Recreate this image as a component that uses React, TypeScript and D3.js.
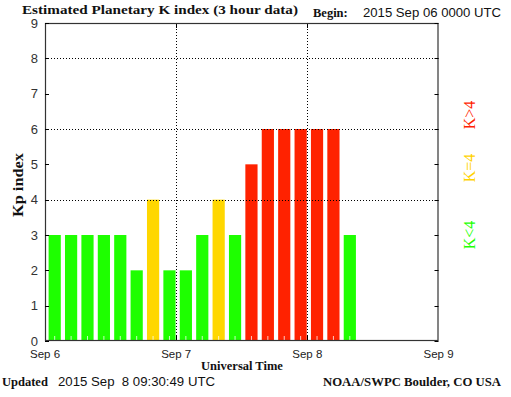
import * as d3 from 'd3';

// 3-hour Kp values starting 2015 Sep 06 00 UTC
const kpValues = [3, 3, 3, 3, 3, 2, 4, 2, 2, 3, 4, 3, 5, 6, 6, 6, 6, 6, 3];
const dayLabels = ['Sep 6', 'Sep 7', 'Sep 8', 'Sep 9'];
const yTicks = [0, 1, 2, 3, 4, 5, 6, 7, 8, 9];
const gridLevels = [4, 6, 8];
const legendItems = [
  { label: 'K>4', color: '#ff2200', y: 115 },
  { label: 'K=4', color: '#ffd200', y: 168 },
  { label: 'K<4', color: '#22ff00', y: 235 },
];

const serif = '"Liberation Serif", "DejaVu Serif", serif';
const sans = '"Liberation Sans", Arial, sans-serif';

const barColor = (k: number) => (k < 4 ? '#1eff00' : k === 4 ? '#ffd700' : '#ff2200');

export default function App() {
  const width = 511;
  const height = 397;
  const left = 45, right = 438.5, top = 23, bottom = 341;

  // x is measured in 3-hour slots: 0..24 spans Sep 6 - Sep 9
  const x = d3.scaleLinear().domain([0, 24]).range([left, right]);
  const y = d3.scaleLinear().domain([0, 9]).range([bottom, top]);
  const slot = x(1) - x(0);

  return (
    <div style={{ position: 'absolute', left: 0, top: 0 }}>
      <svg width={width} height={height} style={{ display: 'block', background: '#fff' }}>
        {/* title */}
        <text x={22} y={13.5} fontFamily={serif} fontWeight="bold" fontSize={13.5} fill="#111"
          textLength={276} lengthAdjust="spacingAndGlyphs">
          Estimated Planetary K index (3 hour data)
        </text>
        <text x={313} y={17} fontFamily={serif} fontWeight="bold" fontSize={12.5} fill="#111">Begin:</text>
        <text x={363} y={17} fontFamily={sans} fontSize={12} fill="#111"
          textLength={138} lengthAdjust="spacingAndGlyphs">2015 Sep 06 0000 UTC</text>

        {/* bars */}
        {kpValues.map((k, i) => (
          <g key={i}>
            <rect x={x(i) + 3.6} y={y(k)} width={slot - 4.2} height={y(0) - y(k)} fill={barColor(k)} />
            <line x1={x(i + 0.5) + 1.5} x2={x(i + 0.5) + 1.5} y1={bottom} y2={bottom - 5} stroke="#fff" strokeOpacity={0.75} strokeWidth={1} />
          </g>
        ))}

        {/* dotted grid */}
        {gridLevels.map(g => (
          <line key={g} x1={left} x2={right} y1={Math.round(y(g)) + 0.5} y2={Math.round(y(g)) + 0.5}
            stroke="#000" strokeDasharray="1,2" strokeWidth={1} />
        ))}
        {[8, 16].map(s => (
          <line key={s} x1={Math.round(x(s)) + 0.5} x2={Math.round(x(s)) + 0.5} y1={top} y2={bottom}
            stroke="#000" strokeDasharray="1,2" strokeWidth={1} />
        ))}
        {/* day ticks top / bottom */}
        {[8, 16].map(s => (
          <g key={'t' + s}>
            <line x1={Math.round(x(s)) + 0.5} x2={Math.round(x(s)) + 0.5} y1={top} y2={top + 5} stroke="#000" />
            <line x1={Math.round(x(s)) + 0.5} x2={Math.round(x(s)) + 0.5} y1={bottom} y2={bottom - 5} stroke="#000" />
          </g>
        ))}

        {/* frame */}
        <rect x={left + 0.5} y={top + 0.5} width={right - left - 1} height={bottom - top - 1}
          fill="none" stroke="#333" strokeWidth={1.2} />

        {/* y ticks both sides */}
        {yTicks.map(t => (
          <g key={t}>
            <line x1={left} x2={left + 4} y1={Math.round(y(t)) + 0.5} y2={Math.round(y(t)) + 0.5} stroke="#000" />
            <line x1={right - 4} x2={right} y1={Math.round(y(t)) + 0.5} y2={Math.round(y(t)) + 0.5} stroke="#000" />
            <text x={38} y={y(t)} dy="0.36em" textAnchor="end" fontFamily={sans} fontSize={13} fill="#333">{t}</text>
          </g>
        ))}

        {/* x labels */}
        {dayLabels.map((d, i) => (
          <text key={d} x={x(i * 8)} y={358} textAnchor="middle" fontFamily={sans} fontSize={11.5} fill="#222">{d}</text>
        ))}
        <text x={242} y={370} textAnchor="middle" fontFamily={serif} fontWeight="bold" fontSize={12.5} fill="#111">Universal Time</text>

        {/* y title */}
        <text transform="translate(23,185) rotate(-90)" textAnchor="middle" fontFamily={serif} fontWeight="bold" fontSize={14.5} fill="#111"
          textLength={64} lengthAdjust="spacingAndGlyphs">Kp index</text>

        {/* right legend */}
        {legendItems.map(l => (
          <text key={l.label} transform={`translate(475,${l.y}) rotate(-90)`} textAnchor="middle"
            fontFamily={serif} fontSize={16} fill={l.color}>{l.label}</text>
        ))}

        {/* footer */}
        <text x={2} y={386} fontFamily={serif} fontWeight="bold" fontSize={12.5} fill="#111">Updated</text>
        <text x={58} y={386} fontFamily={sans} fontSize={12} fill="#111" xmlSpace="preserve"
          textLength={157} lengthAdjust="spacingAndGlyphs">2015 Sep  8 09:30:49 UTC</text>
        <text x={501} y={386} textAnchor="end" fontFamily={serif} fontWeight="bold" fontSize={12.5} fill="#111"
          textLength={178} lengthAdjust="spacingAndGlyphs">NOAA/SWPC Boulder, CO USA</text>
      </svg>
    </div>
  );
}
